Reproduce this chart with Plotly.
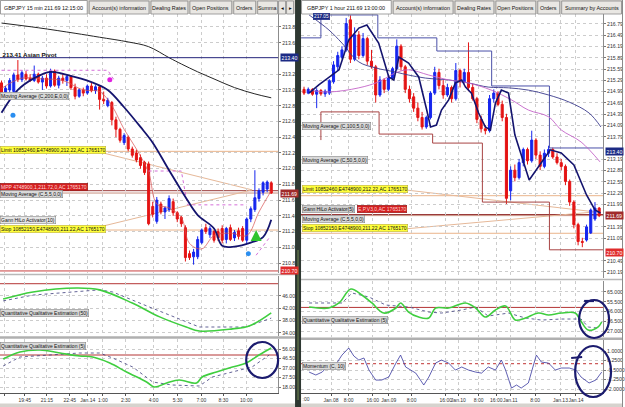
import plotly.graph_objects as go

W, H = 625, 407
FONT = "Liberation Sans"

# ================= LEFT CHART : GBPJPY 15 min =================
L_open = [213.09,212.97,213.00,212.98,213.19,213.13,213.20,213.15,213.12,213.20,
          213.10,213.15,213.05,213.24,213.06,213.15,213.12,213.17,213.03,212.92,
          213.00,212.96,213.05,212.99,213.04,212.88,212.80,212.84,212.62,212.50,
          212.33,212.40,212.25,212.20,212.14,212.08,212.06,211.52,211.33,211.55,
          211.45,211.48,211.58,211.44,211.38,211.25,210.92,210.88,210.88,211.06,
          211.25,211.16,211.20,211.20,211.24,211.10,211.25,211.12,211.21,211.24,
          211.09,211.36,211.48,211.62,211.70,211.74,211.82]
L_high = [213.12,213.05,213.15,213.22,213.38,213.25,213.24,213.20,213.31,213.22,
          213.18,213.20,213.27,213.26,213.18,213.20,213.20,213.19,213.08,213.02,
          213.03,213.07,213.10,213.06,213.05,212.98,212.90,212.86,212.66,212.52,
          212.45,212.42,212.28,212.24,212.18,212.10,212.09,211.58,211.64,211.58,
          211.52,211.66,211.62,211.46,211.40,211.28,210.96,210.98,211.14,211.24,
          211.30,211.27,211.22,211.24,211.28,211.26,211.29,211.22,211.25,211.27,
          211.38,211.52,211.98,211.75,211.84,211.85,211.84]
L_low = [212.94,212.92,212.97,212.96,213.10,213.10,213.12,213.10,213.10,213.08,
         213.00,213.02,213.03,213.04,213.02,213.08,213.05,213.00,212.88,212.90,
         212.92,212.94,212.97,212.95,212.75,212.82,212.78,212.55,212.40,212.33,
         212.30,212.22,212.14,212.08,212.00,211.92,211.28,211.38,211.30,211.42,
         211.36,211.45,211.40,211.32,211.26,210.82,210.84,210.78,210.85,211.04,
         211.17,211.12,211.06,211.08,211.05,211.05,211.08,211.08,211.10,211.07,
         211.05,211.32,211.45,211.58,211.66,211.70,211.68]
L_close = [212.97,213.02,213.12,213.19,213.13,213.22,213.14,213.12,213.20,213.10,
           213.15,213.05,213.24,213.06,213.15,213.12,213.17,213.03,212.92,213.00,
           212.96,213.05,212.99,213.04,212.88,212.86,212.87,212.62,212.50,212.36,
           212.42,212.25,212.17,212.11,212.04,211.95,211.30,211.42,211.60,211.45,
           211.50,211.62,211.44,211.36,211.30,210.87,210.87,210.94,211.10,211.22,
           211.20,211.24,211.09,211.12,211.09,211.24,211.10,211.19,211.14,211.09,
           211.36,211.49,211.63,211.72,211.82,211.83,211.69]

L_ma200_i = [0, 9, 18, 24, 31, 36, 41, 44, 48, 52, 57, 62, 66]
L_ma200_v = [213.85, 213.79, 213.72, 213.67, 213.61, 213.55, 213.41, 213.33, 213.23, 213.14, 213.03, 212.95, 212.90]

L_mav_i = [0, 4, 8, 12, 16, 22, 26, 30, 34, 37, 41, 45, 48, 52, 54, 57, 61, 64, 66]
L_mav_v = [212.71, 213.00, 213.15, 213.23, 213.19, 213.10, 213.00, 212.78, 212.53, 212.33,
           211.98, 211.64, 211.41, 211.24, 211.02, 211.01, 211.06, 211.13, 211.35]

L_ma5_i = [0, 5, 10, 15, 20, 24, 27, 30, 33, 36, 38, 41, 44, 46, 49, 52, 56, 60, 63, 66]
L_ma5_v = [213.02, 213.15, 213.14, 213.12, 213.00, 212.98, 212.80, 212.50, 212.25, 211.95,
           211.55, 211.50, 211.38, 211.05, 210.98, 211.15, 211.18, 211.15, 211.45, 211.72]

L_hilo_i = [0, 26, 27.5, None, 36, 44, 45.5, 60, None, 62.3, 65.5]
L_hilo_v = [213.25, 213.25, 213.13, None, 211.97, 211.97, 211.54, 211.54, None, 210.90, 211.12]

L_pivot, L_limit, L_entry, L_last, L_stop, L_low_lvl = 213.41, 212.22, 211.72, 211.69, 211.22, 210.70

L_qqe50_i = [0.4, 7.7, 18.4, 24, 32, 38.7, 45.2, 48.4, 56.5, 60.6, 66]
L_qqe50_v = [45.0, 47.3, 48.6, 48.0, 43.7, 39.2, 35.9, 34.6, 35.3, 36.2, 40.5]
L_qqe50s_i = [0.4, 7.7, 24, 27.2, 36.2, 44.3, 48.4, 59.9, 66]
L_qqe50s_v = [44.4, 46.3, 48.0, 47.3, 42.4, 38.2, 35.9, 35.9, 38.8]

L_qqe5_i = [0.4, 4.5, 9.4, 14.3, 19.1, 22.3, 26.5, 30.6, 35.5, 37.4, 40.4, 43.5, 47.7, 49.1, 52.6, 56.5, 59.9, 63, 66]
L_qqe5_v = [46, 53, 55, 52, 49, 48, 42, 33, 23, 18, 22, 25, 22, 28, 33, 38, 42, 50, 57]
L_qqe5s_i = [0.4, 4.5, 11.8, 19.1, 24, 27.2, 32.1, 37, 41.8, 48.4, 51.6, 56.5, 61.3, 65.5]
L_qqe5s_v = [39, 48, 50, 52, 52, 47, 38, 23, 20, 19, 28, 33, 38, 50]

L_xtick_pos = [0.8, 5.7, 11.1, 16.7, 21.1, 24.8, 30.4, 37.2, 43.1, 48.9, 54.3, 59.9]
L_xtick_txt = ["8:15", "19:45", "21:15", "22:45", "Jan.14", "1:00", "2:30", "4:00", "5:30", "7:00", "8:30", "10:00"]
L_ytick = [213.80, 213.60, 213.20, 213.00, 212.80, 212.60, 212.40, 212.20, 212.00,
           211.80, 211.60, 211.40, 211.20, 211.00, 210.80]
L_q50_ticks = [46, 42, 38, 34]
L_q5_ticks = [56, 46.5, 37, 27.5, 18]

# ================= RIGHT CHART : GBPJPY 1 hour =================
R_open = [215.05,214.95,215.05,214.92,215.02,214.93,214.95,215.25,215.65,215.90,
          216.10,216.90,215.85,216.50,215.95,216.40,215.80,215.65,214.90,215.30,
          215.05,215.35,215.60,216.20,215.65,215.05,214.85,214.55,214.30,214.05,
          214.30,214.95,215.50,215.15,214.90,215.10,214.80,215.55,215.25,215.50,
          215.10,214.80,214.25,214.00,213.95,214.80,214.95,214.65,214.30,212.35,
          212.90,212.70,213.10,213.45,213.15,213.70,213.30,213.00,213.35,213.45,
          213.25,213.10,213.00,212.60,212.05,211.45,211.00,211.04,211.23,211.60,211.89]
R_high = [215.12,215.10,215.08,215.08,215.06,215.05,215.32,215.80,216.05,216.20,
          216.95,217.02,216.70,216.60,216.55,216.45,216.10,215.70,215.40,215.35,
          215.45,215.65,216.38,216.25,215.70,215.15,214.95,214.70,214.45,214.35,
          215.00,215.65,215.60,215.30,215.20,215.15,215.75,215.60,215.60,216.30,
          215.20,214.85,214.35,214.10,214.90,215.05,215.00,214.75,214.40,213.00,
          213.05,213.20,213.50,213.50,213.95,213.75,213.40,213.45,213.55,213.50,
          213.35,213.20,213.05,212.65,212.10,211.50,211.10,211.45,211.88,212.05,211.92]
R_low = [214.90,214.92,214.88,214.55,214.88,214.85,214.90,215.20,215.55,215.85,
         216.05,215.75,215.80,215.85,215.90,215.70,215.60,214.70,214.85,214.95,
         215.00,215.30,215.55,215.55,214.95,214.70,214.45,214.20,213.98,214.00,
         214.25,214.90,215.05,214.80,214.85,214.70,214.75,215.10,215.20,215.00,
         214.75,214.15,213.90,213.85,213.90,214.70,214.60,214.20,212.00,212.10,
         212.60,212.65,213.00,213.05,213.10,213.20,212.90,212.95,213.25,213.20,
         213.05,212.90,212.50,211.95,211.35,210.90,210.85,211.00,211.20,211.55,211.65]
R_close = [214.95,215.05,214.92,215.02,214.93,215.00,215.28,215.70,215.95,216.10,
           216.80,215.85,216.50,215.95,216.40,215.80,215.65,214.90,215.30,215.05,
           215.35,215.60,216.20,215.65,215.05,214.80,214.55,214.30,214.05,214.30,
           214.95,215.50,215.15,214.90,215.10,214.80,215.55,215.25,215.50,215.10,
           214.80,214.25,214.00,213.95,214.80,214.95,214.65,214.30,212.15,212.90,
           212.70,213.10,213.45,213.15,213.70,213.30,213.00,213.35,213.45,213.25,
           213.10,213.00,212.60,212.05,211.45,211.00,210.98,211.39,211.84,211.89,211.69]

R_mav_i = [1.2, 3.5, 8.3, 10.6, 13, 14.9, 17.7, 20.1, 21.3, 22.5, 24.8, 27.2, 29.1, 30, 31.4, 32.6,
           34.3, 35.9, 37.4, 38.3, 39.7, 41.4, 43, 44.2, 45.4, 46.8, 48.5, 50, 53.4, 56, 58.4, 61,
           64, 67, 69, 70.3]
R_mav_v = [214.95, 215.17, 215.57, 216.36, 216.68, 216.76, 216.28, 215.38, 215.30, 215.91,
           215.75, 215.38, 214.50, 214.05, 214.10, 214.50, 214.77, 215.22, 215.30, 215.11,
           214.95, 214.42, 214.05, 213.97, 214.69, 215.03, 214.95, 213.84, 212.64, 213.04,
           213.44, 213.36, 213.04, 212.24, 211.84, 211.76]
R_ma100_i = [1.2, 5.9, 9, 13, 17, 21.7, 24.8, 28.8, 34.3, 39, 43.7, 48.5, 53.2, 58, 62.9, 67.6, 70.4]
R_ma100_v = [217.03, 216.63, 216.28, 215.78, 215.62, 215.51, 215.43, 215.35, 215.30, 215.22,
             215.11, 215.09, 215.03, 214.90, 214.71, 214.42, 214.05]
R_ma50_i = [1.2, 5.9, 13, 17.7, 21.7, 24.8, 29.6, 34.3, 39, 44.4, 49.2, 53.2, 58, 61, 65.7, 70.2]
R_ma50_v = [215.03, 214.98, 215.09, 215.25, 215.49, 215.57, 215.43, 215.30, 215.22, 215.03,
            214.77, 214.50, 214.32, 213.97, 213.65, 213.12]
R_up_i = [-0.7, 4, 17.5, 31.5, 44.5, 58.2, 71]
R_up_v = [216.42, 217.03, 216.42, 216.07, 215.14, 213.49, 213.49]
R_dn_i = [4, 4, 17.8, 30.5, 42.3, 58.2, 71]
R_dn_v = [213.70, 214.45, 213.86, 213.62, 212.05, 210.78, 210.78]

R_pivot, R_limit, R_entry, R_last, R_stop, R_low_lvl, R_top = 213.40, 212.22, 211.72, 211.69, 211.22, 210.70, 217.05

R_qqe_i = [1.2, 5.9, 8.3, 11.1, 13.7, 16.1, 18.9, 21.8, 22.9, 24.8, 27.2, 29.6, 31.2, 34.3, 38.3,
           40.7, 43, 45.4, 47.8, 50.1, 52.5, 55.6, 58, 61, 64.3, 65.5, 67.4, 69.7, 70.6]
R_qqe_v = [50.4, 49.4, 54.3, 67.9, 62.1, 54.3, 44.5, 49.4, 54.3, 45.5, 40.6, 39.7, 49.4, 49.4, 54.3,
           49.4, 40.6, 47.5, 51.4, 37.7, 39.7, 44.5, 42.6, 44.5, 44.5, 37.7, 28.0, 30.9, 35.8]
R_qqes_i = [1.2, 9, 11.4, 15.4, 19.4, 24.8, 29.6, 32.6, 37.4, 40.7, 43.7, 48.5, 52.5, 56.3, 61, 65.7, 67.4, 69.7]
R_qqes_v = [54.3, 54.3, 64.0, 60.1, 52.3, 50.4, 45.5, 44.5, 47.5, 50.4, 41.6, 44.5, 39.7, 37.7, 38.7, 38.7, 30.9, 29.9]

R_mom_i = [1.2, 2.8, 4.3, 5.9, 7.6, 9, 10.6, 11.8, 13, 14.2, 15.4, 17, 18.4, 20.1, 21.8, 22.9, 24.1,
           26.5, 28.4, 29.6, 31.2, 32.6, 34.3, 35.9, 37.4, 39, 40.7, 42.1, 43.7, 45.4, 46.8, 47.8,
           49.2, 50.4, 51.5, 53.2, 55.1, 56.3, 58, 59.6, 61, 62.9, 64.5, 65.7, 67.6, 69.2, 70.6]
R_mom_v = [-0.66, -0.89, -0.66, -0.10, -0.03, 0.68, 1.24, 0.61, 0.29, 0.45, -0.50, -1.29, -1.29,
           -1.05, 0.05, 0.68, -0.26, -0.74, -1.68, -1.05, 0.05, 0.29, 0.05, -0.50, -0.26, -0.50,
           -0.66, -0.74, -0.26, -0.50, 0.29, -0.50, -1.92, -1.68, -1.92, -1.52, 0.68, 0.13, 0.05,
           -0.50, -0.34, -0.34, -0.50, -1.05, -1.52, -1.29, -0.66]

R_xtick_pos = [6.4, 10.6, 16.3, 20.1, 25.5, 33.6, 36.6, 41.4, 45.6, 48.9, 54.8, 60.8, 64.5]
R_xtick_txt = ["Jan.08", "8:00", "16:00", "Jan.09", "8:00", "16:00", "Jan.10", "8:00", "16:00",
               "Jan.11", "8:00", "Jan.13", "Jan.14"]
R_ytick = [216.79, 216.49, 216.19, 215.89, 215.59, 215.29, 214.99, 214.69, 214.39, 214.09, 213.79,
           213.19, 212.89, 212.59, 212.29, 211.99, 211.39, 211.09, 210.49, 210.19]
R_q_ticks = [65, 55.5, 46, 36.5, 27]
R_mom_ticks = [1.0, 0.25, -0.5, -1.25, -2.0]


# ================= helpers =================
def fx(p):
    return p / W


def fy(p):
    return 1 - p / H


def candles(o, h, l, c, xa, ya):
    return go.Candlestick(
        x=list(range(len(o))), open=o, high=h, low=l, close=c, xaxis=xa, yaxis=ya,
        increasing=dict(line=dict(color="#1626ee", width=1), fillcolor="#1626ee"),
        decreasing=dict(line=dict(color="#e41414", width=1), fillcolor="#e41414"),
        whiskerwidth=0, hoverinfo="skip")


def line(xs, ys, xa, ya, color, width, dash="solid", shape="spline"):
    return go.Scatter(x=xs, y=ys, xaxis=xa, yaxis=ya, mode="lines", hoverinfo="skip",
                      line=dict(color=color, width=width, dash=dash, shape=shape),
                      connectgaps=False)


fig = go.Figure()

# ---- left traces
fig.add_trace(line(L_ma5_i, L_ma5_v, "x", "y", "#d85050", 0.7))
fig.add_trace(line(L_hilo_i, L_hilo_v, "x", "y", "#d46ed8", 1, "dot", "linear"))
fig.add_trace(candles(L_open, L_high, L_low, L_close, "x", "y"))
fig.add_trace(line(L_ma200_i, L_ma200_v, "x", "y", "#262626", 1))
fig.add_trace(line(L_mav_i, L_mav_v, "x", "y", "#14146e", 1.8))
fig.add_trace(go.Scatter(x=[26.5], y=[213.13], xaxis="x", yaxis="y", mode="markers",
                         marker=dict(color="#e020e0", size=5), hoverinfo="skip"))
fig.add_trace(go.Scatter(x=[2.8, 60.4], y=[212.68, 210.92], xaxis="x", yaxis="y", mode="markers",
                         marker=dict(color="#2a8ef0", size=5), hoverinfo="skip"))
fig.add_trace(go.Scatter(x=[62.3], y=[211.22], xaxis="x", yaxis="y", mode="markers",
                         marker=dict(color="#2ec42e", size=11, symbol="arrow-up",
                                     line=dict(width=0)), hoverinfo="skip"))
fig.add_trace(line(L_qqe50s_i, L_qqe50s_v, "x2", "y2", "#3c3c7c", 0.8, "dot", "linear"))
fig.add_trace(line(L_qqe50_i, L_qqe50_v, "x2", "y2", "#3fce3f", 1.6))
fig.add_trace(line(L_qqe5s_i, L_qqe5s_v, "x3", "y3", "#3c3c7c", 0.8, "dot", "linear"))
fig.add_trace(line(L_qqe5_i, L_qqe5_v, "x3", "y3", "#3fce3f", 1.6))

# ---- right traces
fig.add_trace(line(R_up_i, R_up_v, "x4", "y4", "#4a50a8", 1, "solid", "hv"))
fig.add_trace(line(R_dn_i, R_dn_v, "x4", "y4", "#a84444", 1, "solid", "hv"))
fig.add_trace(line(R_ma100_i, R_ma100_v, "x4", "y4", "#3a3a8c", 0.9))
fig.add_trace(line(R_ma50_i, R_ma50_v, "x4", "y4", "#c464c8", 0.9))
fig.add_trace(candles(R_open, R_high, R_low, R_close, "x4", "y4"))
fig.add_trace(line(R_mav_i, R_mav_v, "x4", "y4", "#14146e", 1.6, "solid", "linear"))
fig.add_trace(line(R_qqes_i, R_qqes_v, "x5", "y5", "#3c3c7c", 0.8, "dot", "linear"))
fig.add_trace(line(R_qqe_i, R_qqe_v, "x5", "y5", "#3fce3f", 1.6))
fig.add_trace(line(R_mom_i, R_mom_v, "x6", "y6", "#3838a0", 0.8, "solid", "linear"))

# ================= axes =================
tickfont = dict(family=FONT, size=5.2, color="#333333")
ybase = dict(side="right", showline=True, linecolor="#8c8c8c", linewidth=1, ticks="outside",
             ticklen=2, tickcolor="#777777", showgrid=True, gridcolor="#cccccc", griddash="dot",
             gridwidth=1, zeroline=False, tickfont=tickfont, fixedrange=True)
xbase = dict(showgrid=True, gridcolor="#cccccc", griddash="dot", gridwidth=1, zeroline=False,
             showline=False, showticklabels=False, ticks="", fixedrange=True,
             rangeslider=dict(visible=False), tickangle=0)

LX = [fx(0), fx(279)]
RX = [fx(302), fx(605)]
LXR = [-0.37, 67.68]
RXR = [-0.71, 70.92]
BOT = 392.5

layout = dict(width=W, height=H, margin=dict(l=0, r=0, t=0, b=0), paper_bgcolor="white",
              plot_bgcolor="white", showlegend=False, font=dict(family=FONT, size=5, color="#222"))

xlab = dict(showticklabels=True, ticks="outside", ticklen=2, tickcolor="#555", showline=True,
            linecolor="#555555", tickfont=dict(family=FONT, size=5, color="#333333"), tickangle=0)
layout["xaxis"] = dict(xbase, domain=LX, range=LXR, anchor="y", tickvals=L_xtick_pos)
layout["xaxis2"] = dict(xbase, domain=LX, range=LXR, anchor="y2", tickvals=L_xtick_pos)
layout["xaxis3"] = dict(xbase, domain=LX, range=LXR, anchor="y3", tickvals=L_xtick_pos,
                        ticktext=L_xtick_txt, **xlab)
layout["xaxis4"] = dict(xbase, domain=RX, range=RXR, anchor="y4", tickvals=R_xtick_pos)
layout["xaxis5"] = dict(xbase, domain=RX, range=RXR, anchor="y5", tickvals=R_xtick_pos)
layout["xaxis6"] = dict(xbase, domain=RX, range=RXR, anchor="y6", tickvals=R_xtick_pos,
                        ticktext=R_xtick_txt, **xlab)

layout["yaxis"] = dict(ybase, domain=[fy(273), fy(14)], range=[210.674, 213.965], anchor="x",
                       tickvals=L_ytick, ticktext=["%.2f" % v for v in L_ytick])
layout["yaxis2"] = dict(ybase, domain=[fy(336), fy(276)], range=[32.97, 52.51], anchor="x2",
                        tickvals=L_q50_ticks, ticktext=["%.3f" % v for v in L_q50_ticks])
layout["yaxis3"] = dict(ybase, domain=[fy(BOT), fy(339)], range=[12.5, 66], anchor="x3",
                        tickvals=L_q5_ticks, ticktext=["%.3f" % v for v in L_q5_ticks])
layout["yaxis4"] = dict(ybase, domain=[fy(278), fy(14)], range=[210.03, 217.055], anchor="x4",
                        tickvals=R_ytick, ticktext=["%.2f" % v for v in R_ytick])
layout["yaxis5"] = dict(ybase, domain=[fy(337), fy(281)], range=[21.2, 75.7], anchor="x5",
                        tickvals=R_q_ticks, ticktext=["%.3f" % v for v in R_q_ticks])
layout["yaxis6"] = dict(ybase, domain=[fy(BOT), fy(340)], range=[-2.27, 1.87], anchor="x6",
                        tickvals=R_mom_ticks, ticktext=["%.4f" % v for v in R_mom_ticks])

# ================= shapes =================
shapes = []


def hline(xa, ya, v, color, width, dash="solid", layer="below"):
    shapes.append(dict(type="line", xref=xa + " domain", yref=ya, x0=0, x1=1, y0=v, y1=v,
                       line=dict(color=color, width=width, dash=dash), layer=layer))


def seg(xa, ya, x0, y0, x1, y1, color, width=1):
    shapes.append(dict(type="line", xref=xa, yref=ya, x0=x0, y0=y0, x1=x1, y1=y1,
                       line=dict(color=color, width=width), layer="below"))


hline("x", "y", L_limit, "#eab48a", 1)
hline("x", "y", L_stop, "#eab48a", 1)
hline("x", "y", L_entry, "#9a3a3a", 1)
hline("x", "y", L_last, "#c89080", 1)
hline("x", "y", L_low_lvl, "#c84040", 1)
hline("x", "y", L_pivot, "#24247a", 1, layer="above")
seg("x", "y", 24.8, 212.20, 61.3, 211.73, "#e6b898")
seg("x", "y", 24.8, 211.27, 61.3, 211.73, "#e6b898")
hline("x2", "y2", 50, "#b43434", 1)
hline("x3", "y3", 50, "#b43434", 1)
hline("x4", "y4", R_limit, "#eab48a", 1)
hline("x4", "y4", R_stop, "#eab48a", 1)
hline("x4", "y4", R_entry, "#9a3a3a", 1.2)
hline("x4", "y4", R_last, "#c89080", 1)
seg("x4", "y4", 24.3, 212.37, 69, 211.79, "#e6b898")
seg("x4", "y4", 24.3, 211.34, 69, 211.79, "#e6b898")
hline("x5", "y5", 50, "#b43434", 1)
hline("x6", "y6", 0, "#c03030", 1, "dot")


def rect(x0, y0, x1, y1, fill, line_c=None, lw=1, layer="above"):
    shapes.append(dict(type="rect", xref="paper", yref="paper", x0=fx(x0), x1=fx(x1),
                       y0=fy(y1), y1=fy(y0), fillcolor=fill,
                       line=dict(color=line_c or fill, width=lw if line_c else 0), layer=layer))


def pline(x0, y0, x1, y1, color, width):
    shapes.append(dict(type="line", xref="paper", yref="paper", x0=fx(x0), y0=fy(y0),
                       x1=fx(x1), y1=fy(y1), line=dict(color=color, width=width), layer="above"))


pline(0, 274.5, 296, 274.5, "#b8b8b8", 1.5)
pline(0, 337.5, 296, 337.5, "#b0b0b0", 2.5)
pline(302, 279.5, 625, 279.5, "#b8b8b8", 1.5)
pline(302, 338.8, 625, 338.8, "#b0b0b0", 2.5)

rect(0, 0, 625, 14, "#d6d3ce", layer="above")
tabs = [(0, 88, "GBPJPY 15 min 211.69 12:15:00", True), (89, 150, "Account(s) information", False),
        (151, 189, "Dealing Rates", False), (190, 233, "Open Positions", False),
        (234, 257, "Orders", False), (258, 279, "Summa", False), (279, 287, "\u25c2", False),
        (287, 295, "\u25b8", False),
        (302, 393, "GBPJPY 1 hour 211.69 13:00:00", True), (394, 455, "Account(s) information", False),
        (456, 496, "Dealing Rates", False), (497, 538, "Open Positions", False),
        (539, 562, "Orders", False), (563, 624, "Summary by Accounts", False)]
for (a, b, t, act) in tabs:
    rect(a + 0.5, 1 if not act else 0.5, b - 0.5, 14, "#ffffff" if act else "#e9e7e3", "#8a8a8a", 0.8)
rect(0, 403.5, 625, 407, "#d6d3ce")
rect(296, 0, 302, 407, "#2e3832")
pline(299, 250, 299, 400, "#5c6e48", 1.5)
rect(624, 0, 625, 407, "#8a8a8a")

shapes.append(dict(type="circle", xref="paper", yref="paper", x0=fx(247), x1=fx(279),
                   y0=fy(378), y1=fy(342), line=dict(color="#1b1b6e", width=2.2), layer="above"))
shapes.append(dict(type="circle", xref="paper", yref="paper", x0=fx(581), x1=fx(611),
                   y0=fy(338), y1=fy(300), line=dict(color="#1b1b6e", width=2.2), layer="above"))
shapes.append(dict(type="circle", xref="paper", yref="paper", x0=fx(577), x1=fx(613),
                   y0=fy(397), y1=fy(346), line=dict(color="#1b1b6e", width=2.2), layer="above"))
pline(573, 358, 584, 357, "#1b1b6e", 2.2)
pline(586, 301, 596, 301, "#1b1b6e", 2.2)

layout["shapes"] = shapes

# ================= annotations =================
ann = []


def label(text, x, y, bg, fg="#111111", size=5, border="#7a7a7a", xanchor="left", bold=False):
    ann.append(dict(text=("<b>%s</b>" % text) if bold else text, xref="paper", yref="paper",
                    x=fx(x), y=fy(y), xanchor=xanchor, yanchor="middle", showarrow=False,
                    bgcolor=bg, bordercolor=border if bg else None, borderwidth=0.5 if bg else 0,
                    borderpad=0.5, font=dict(family=FONT, size=size, color=fg)))


def vbox(text, xp, ya, v, bg, fg="white"):
    ann.append(dict(text=text, xref="paper", yref=ya, x=fx(xp), y=v, xanchor="left",
                    yanchor="middle", showarrow=False, bgcolor=bg, borderpad=0.5,
                    font=dict(family=FONT, size=5.2, color=fg)))


for (a, b, t, act) in tabs:
    ann.append(dict(text=t, xref="paper", yref="paper", x=fx((a + b) / 2), y=fy(7.8),
                    xanchor="center", yanchor="middle", showarrow=False,
                    font=dict(family="DejaVu Sans" if len(t) == 1 else FONT, size=5.4, color="#111")))

label("213.41 Asian Pivot", 2, 54, None, "#111111", 6.2, bold=True)
label("Moving Average (C,200,E,0,0)", 0.5, 96, "#d9d9d9")
label("Limit 10852460,E4748900,212.22,AC 1765170", 0.5, 150, "#ffff3a", border="#b0a040")
label("MPP 4748900,1,211.72,0,AC 1765170", 0.5, 186.5, "#d42020", "#ffd8d8", border="#801010")
label("Moving Average (C,5,5,0,0)", 0.5, 193.5, "#d9d9d9")
label("Gann HiLo Activator(10)", 0.5, 220, "#e6e6e6")
label("Stop 10852150,E4748900,211.22,AC 1765170", 0.5, 229, "#ffff3a", border="#b0a040")
label("Quantitative Qualitative Estimation (50)", 0.5, 313, "#d9d9d9")
label("Quantitative Qualitative Estimation (5)", 0.5, 346, "#d9d9d9")
vbox("213.40", 280.5, "y", L_pivot, "#1c2a84")
vbox("211.69", 280.5, "y", L_last, "#a02a2a")
vbox("210.70", 280.5, "y", L_low_lvl, "#e02c2c")

label("217.05", 314, 17, "#1c2a84", "white", 4.8, border="#1c2a84")
label("Moving Average (C,100,5,0,0)", 302.5, 126, "#d9d9d9")
label("Moving Average (C,50,5,0,0)", 302.5, 160, "#d9d9d9")
label("Limit 10852460,E4748900,212.22,AC 1765170", 302.5, 189, "#ffff3a", border="#b0a040")
label("Gann HiLo Activator(5)", 302.5, 208.5, "#cfcfcf")
label("E,P,V3,0,AC 1765170", 358, 208.5, "#d42020", "#ffd8d8", border="#801010")
label("Moving Average (C,5,5,0,0)", 302.5, 218.5, "#d9d9d9")
label("Stop 10852150,E4748900,211.22,AC 1765170", 302.5, 227.5, "#ffff3a", border="#b0a040")
label("Quantitative Qualitative Estimation (5)", 302.5, 320, "#d9d9d9")
label("Momentum (C, 10)", 302.5, 366, "#d9d9d9")
label(":00", 302.5, 398.5, None, "#333333", 5)
vbox("213.40", 607, "y4", R_pivot, "#1c2a84")
vbox("211.69", 607, "y4", R_last, "#a02a2a")
vbox("210.70", 607, "y4", R_low_lvl, "#e02c2c")

layout["annotations"] = ann
fig.update_layout(**layout)
fig.write_html("out.html")
